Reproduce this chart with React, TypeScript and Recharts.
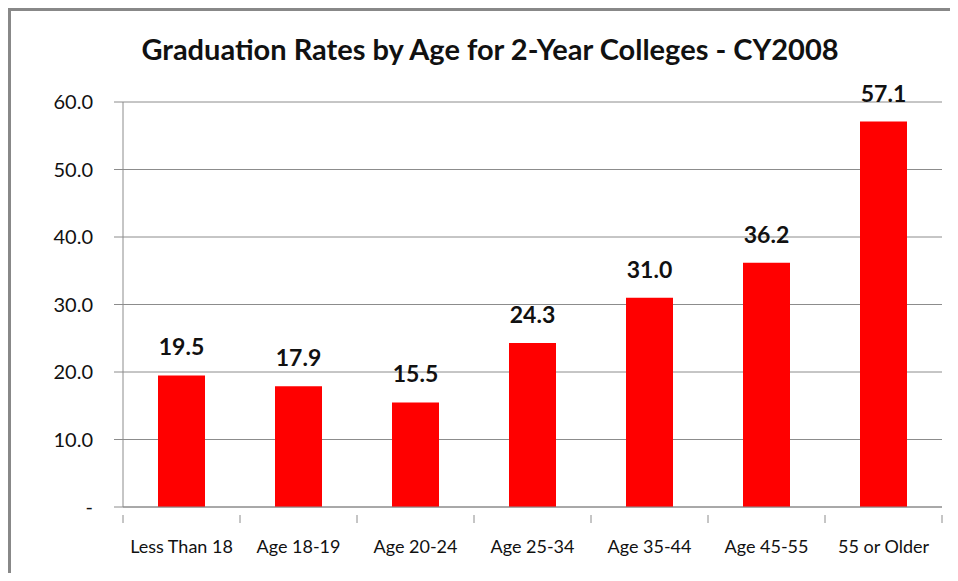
import React from "react";
import { BarChart, Bar, XAxis, YAxis, CartesianGrid, LabelList } from "recharts";

const ageGroups = [
	"Less Than 18",
	"Age 18-19",
	"Age 20-24",
	"Age 25-34",
	"Age 35-44",
	"Age 45-55",
	"55 or Older",
];
const gradRates = [19.5, 17.9, 15.5, 24.3, 31.0, 36.2, 57.1];
const yTicks = [0, 10, 20, 30, 40, 50, 60];

const chartData = ageGroups.map((age, i) => ({ age, rate: gradRates[i] }));

const FONT = "Lato, 'Open Sans', sans-serif";
const AXIS_COLOR = "#8c8c8c";

const formatRate = (v: number) => (v === 0 ? "-" : v.toFixed(1));

// category tick with marks on band edges, like the original
const CategoryTick = (props: any) => {
	const { x, y, payload, index } = props;
	const half = payload && payload.offset ? payload.offset : 819 / 7 / 2;
	return (
		<g>
			<line x1={x - half} x2={x - half} y1={y} y2={y + 8} stroke={AXIS_COLOR} />
			{index === ageGroups.length - 1 && (
				<line x1={x + half} x2={x + half} y1={y} y2={y + 8} stroke={AXIS_COLOR} />
			)}
			<text
				x={x}
				y={y + 38}
				textAnchor="middle"
				fontSize={18}
				fontFamily={FONT}
				fill="#111"
			>
				{payload.value}
			</text>
		</g>
	);
};

export default function App() {
	return (
		<div style={{ position: "relative", width: 958, height: 581, margin: -8, background: "#fff" }}>
			<div
				style={{
					position: "absolute",
					left: 8,
					top: 8,
					right: -10,
					bottom: -10,
					borderTop: "3px solid #888",
					borderLeft: "3px solid #888",
				}}
			/>
			<div
				style={{
					position: "absolute",
					left: 0,
					width: 980,
					top: 31,
					textAlign: "center",
					fontFamily: FONT,
					fontWeight: 700,
					fontSize: 29,
					color: "#111",
				}}
			>
				Graduation Rates by Age for 2-Year Colleges - CY2008
			</div>
			<BarChart
				width={958}
				height={581}
				data={chartData}
				margin={{ top: 102, right: 16, left: 0, bottom: 0 }}
				barCategoryGap="20%"
			>
				<CartesianGrid vertical={false} stroke={AXIS_COLOR} />
				<XAxis
					dataKey="age"
					stroke={AXIS_COLOR}
					tickLine={false}
					tick={<CategoryTick />}
					interval={0}
					height={74}
				/>
				<YAxis
					domain={[0, 60]}
					ticks={yTicks}
					width={123}
					stroke={AXIS_COLOR}
					tickSize={9}
					tickMargin={21}
					tickFormatter={formatRate}
					tick={{ fill: "#111", fontSize: 20, fontFamily: FONT }}
				/>
				<Bar dataKey="rate" fill="#ff0000" barSize={47} isAnimationActive={false}>
					<LabelList
						dataKey="rate"
						position="top"
						offset={20}
						formatter={(v: any) => Number(v).toFixed(1)}
						style={{ fill: "#111", fontSize: 23, fontWeight: 700, fontFamily: FONT }}
					/>
				</Bar>
			</BarChart>
		</div>
	);
}
